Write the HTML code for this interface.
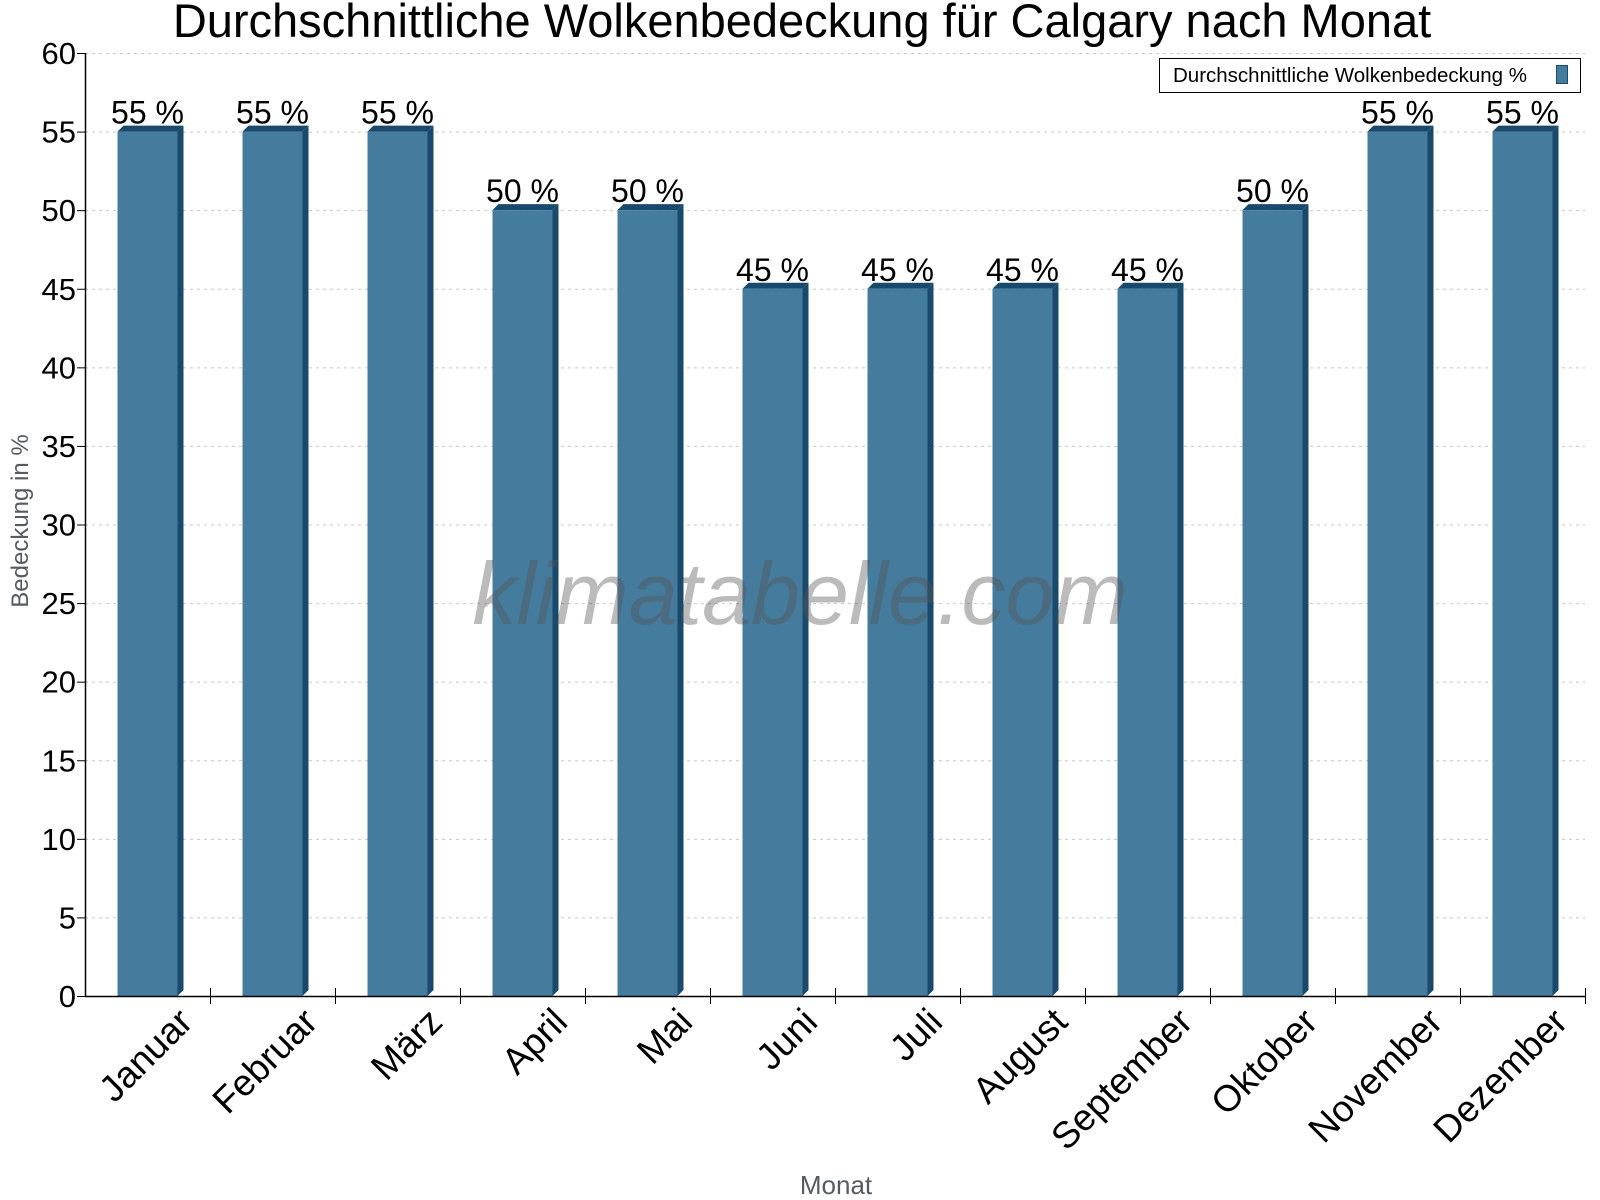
<!DOCTYPE html>
<html><head><meta charset="utf-8"><style>
body{margin:0;background:#fff;}
svg{display:block;font-family:"Liberation Sans",sans-serif;}
</style></head><body>
<svg id="chart" width="1600" height="1200" viewBox="0 0 1600 1200">
<rect width="1600" height="1200" fill="#fff"/>
<text x="802" y="37" font-size="47" text-anchor="middle" fill="#000">Durchschnittliche Wolkenbedeckung für Calgary nach Monat</text>
<g id="grid"></g>
<g id="bars"></g>
<text x="800" y="624" font-size="88" font-style="italic" text-anchor="middle" fill="#555" fill-opacity="0.4">klimatabelle.com</text>
<g id="axes"></g>
<text transform="translate(28,521) rotate(-90)" font-size="24" text-anchor="middle" fill="#555b63">Bedeckung in %</text>
<text x="836" y="1194" font-size="26" text-anchor="middle" fill="#555b63">Monat</text>
<g>
<rect x="1159.5" y="58.5" width="421" height="34" fill="#fff" stroke="#000"/>
<text x="1173" y="82" font-size="20.5" fill="#000">Durchschnittliche Wolkenbedeckung %</text>
<rect x="1556.5" y="65.5" width="11" height="18" fill="#457b9d" stroke="#1a4a6b"/>
</g>
</svg>
<script>
const categories=["Januar","Februar","März","April","Mai","Juni","Juli","August","September","Oktober","November","Dezember"];
const values=[55,55,55,50,50,45,45,45,45,50,55,55];
const yTicks=[0,5,10,15,20,25,30,35,40,45,50,55,60];
const NS="http://www.w3.org/2000/svg";
const X0=85,X1=1585,Y0=996,Y1=53,YMAX=60;
const bw=(X1-X0)/categories.length;
function y(v){return Y0-(v/YMAX)*(Y0-Y1);}
function xc(i){return X0+bw*(i+0.5);}
function mk(t,a,p){const e=document.createElementNS(NS,t);for(const k in a)e.setAttribute(k,a[k]);p.appendChild(e);return e;}
const grid=document.getElementById('grid'),bars=document.getElementById('bars'),axes=document.getElementById('axes');
yTicks.forEach(t=>{
  if(t>0){const g=mk('line',{x1:X0,x2:X1,y1:y(t)+0.5,y2:y(t)+0.5,stroke:'#c8c8c8','stroke-dasharray':'3,4'},grid);
  
  }
  const tk=mk('line',{x1:X0-8,x2:X0,y1:y(t)+0.5,y2:y(t)+0.5,stroke:'#000'},axes);
  
  
  const l=mk('text',{x:X0-9,y:y(t)+11,'font-size':31,'text-anchor':'end',fill:'#000'},axes);
  l.textContent=t;
  
  
});
const ya=mk('line',{x1:X0+0.5,x2:X0+0.5,y1:Y1,y2:Y0,stroke:'#000','stroke-width':1.5},axes);


const xa=mk('line',{x1:X0,x2:X1,y1:Y0+0.5,y2:Y0+0.5,stroke:'#000','stroke-width':1.5},axes);


const fw=60,d=6;
categories.forEach((c,i)=>{
  const cx=xc(i),top=y(values[i]),L=cx-fw/2,R=cx+fw/2;
  const g=mk('g',{},bars);
  
  
  mk('polygon',{points:`${R},${top} ${R+d},${top-d} ${R+d},${Y0-d} ${R},${Y0}`,fill:'#1a4a6b'},g);
  mk('polygon',{points:`${L},${top} ${L+d},${top-d} ${R+d},${top-d} ${R},${top}`,fill:'#1a4a6b'},g);
  mk('rect',{x:L,y:top,width:fw,height:Y0-top,fill:'#457b9d'},g);
  const v=mk('text',{x:cx,y:top-8,'font-size':32,'text-anchor':'middle',fill:'#000'},bars);
  v.textContent=values[i]+' %';
  
  
  const tk=mk('line',{x1:X0+bw*(i+1)+0.5,x2:X0+bw*(i+1)+0.5,y1:Y0-8,y2:Y0+8,stroke:'#000'},axes);
  
  
  const l=mk('text',{transform:`translate(${cx+47},${Y0+28}) rotate(-45)`,'font-size':37,'text-anchor':'end',fill:'#000'},axes);
  l.textContent=c;
  
  
});
</script>
</body></html>
